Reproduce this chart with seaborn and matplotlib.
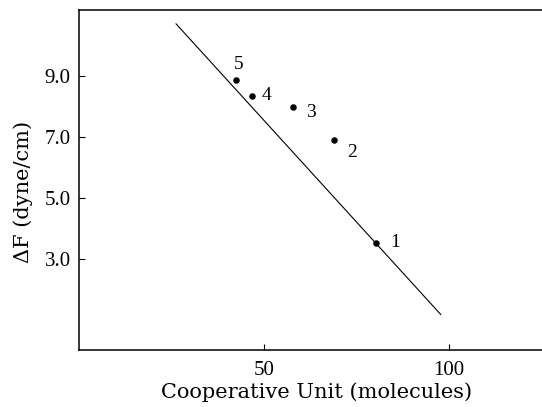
import matplotlib
matplotlib.use("Agg")
import matplotlib.pyplot as plt
import seaborn as sns
import pandas as pd

# data
point_labels = ["1", "2", "3", "4", "5"]
coop_unit = [80.3, 69.0, 57.9, 46.8, 42.4]
delta_f = [3.51, 6.88, 7.97, 8.34, 8.85]
fit_x = [26.2, 97.8]
fit_y = [10.70, 1.16]
x_ticks = [50, 100]
y_ticks = [3.0, 5.0, 7.0, 9.0]
label_offsets = [(14, 0), (13, -9), (13, -4), (10, 0), (2, 11)]

sns.set_theme(style="white")
plt.rcParams["font.family"] = ["Liberation Serif", "DejaVu Serif"]

fig = plt.figure(figsize=(5.42, 4.07), dpi=100)
ax = fig.add_axes([79 / 542, (407 - 350) / 407, (555 - 79) / 542, 340 / 407])

pts = pd.DataFrame({"x": coop_unit, "y": delta_f, "lab": point_labels})
fit = pd.DataFrame({"x": fit_x, "y": fit_y})

sns.lineplot(data=fit, x="x", y="y", ax=ax, color="black", linewidth=0.8)
sns.scatterplot(data=pts, x="x", y="y", ax=ax, color="black", s=22,
                edgecolor="black", linewidth=0, zorder=3)

for (xv, yv, lab), off in zip(zip(coop_unit, delta_f, point_labels), label_offsets):
    ax.annotate(lab, (xv, yv), xytext=off, textcoords="offset points",
                ha="center", va="center", fontsize=14, color="black")

ax.set_xlim(0, (555 - 79) / 3.7)
ax.set_ylim(0, 11.15)
ax.set_xticks(x_ticks)
ax.set_xticklabels([str(v) for v in x_ticks])
ax.set_yticks(y_ticks)
ax.set_yticklabels([f"{v:.1f}" for v in y_ticks])

ax.tick_params(axis="both", direction="in", length=4, width=0.8,
               colors="black", labelsize=15, left=True, bottom=True)
ax.tick_params(axis="y", pad=6)
ax.tick_params(axis="x", pad=8)

for side in ["left", "bottom", "top"]:
    ax.spines[side].set_visible(True)
    ax.spines[side].set_color("black")
    ax.spines[side].set_linewidth(1.1)
ax.spines["right"].set_visible(False)

ax.set_xlabel("Cooperative Unit (molecules)", fontsize=15, color="black",
              family=["DejaVu Serif"])
ax.set_ylabel("ΔF (dyne/cm)", fontsize=15, color="black",
              family=["DejaVu Serif"])
ax.xaxis.set_label_coords((317 - 79) / (555 - 79), -(382 - 350) / 340)
ax.yaxis.set_label_coords(-(79 - 33) / (555 - 79), (350 - 192) / 340)

fig.savefig("out.png", dpi=100, facecolor="white")
